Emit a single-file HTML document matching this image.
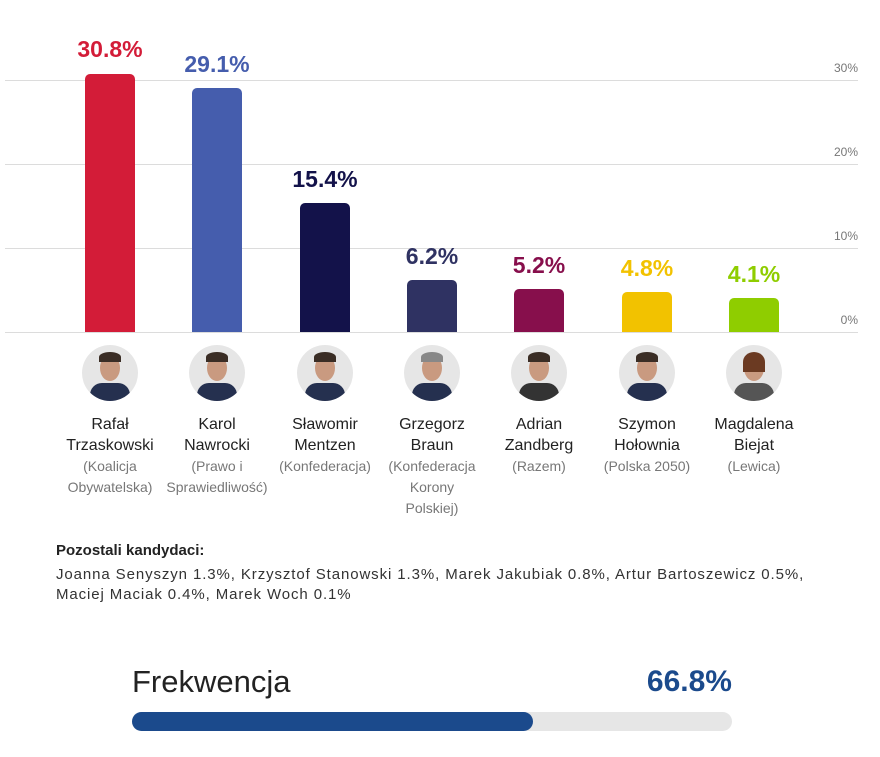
<!DOCTYPE html>
<html><head><meta charset="utf-8"><style>
body{margin:0;width:880px;height:757px;background:#fff;position:relative;overflow:hidden;font-family:"Liberation Sans",sans-serif}
.g{position:absolute;left:5px;width:853px;height:1px;background:#dcdcdc}
.t{position:absolute;right:22px;font-size:12px;color:#777}
.bar{position:absolute;width:50px;border-radius:5px 5px 0 0}
.v{position:absolute;width:120px;text-align:center;font-weight:bold;font-size:23px}
.av{position:absolute;top:345px;width:56px;height:56px;border-radius:50%;background:#e6e6e6;overflow:hidden}
.av .f{position:absolute;left:18px;top:10px;width:20px;height:26px;border-radius:50%;background:#c99a80}
.av .h{position:absolute;left:17px;top:7px;width:22px;height:10px;border-radius:50% 50% 0 0;background:#3a2d25}
.av .s{position:absolute;left:8px;top:38px;width:40px;height:24px;border-radius:12px 12px 0 0;background:#25304f}
.n{position:absolute;top:414px;width:120px;text-align:center;font-size:16px;line-height:21px;color:#222}
.n span{display:block;font-size:14px;color:#777}
</style></head><body>
<div class="g" style="top:80px"></div><div class="g" style="top:164px"></div><div class="g" style="top:248px"></div><div class="g" style="top:332px"></div>
<div class="t" style="top:61px">30%</div><div class="t" style="top:145px">20%</div><div class="t" style="top:229px">10%</div><div class="t" style="top:313px">0%</div>

<div class="bar" style="left:85px;top:74px;height:258px;background:#d31c38"></div>
<div class="bar" style="left:192px;top:88px;height:244px;background:#455dad"></div>
<div class="bar" style="left:300px;top:203px;height:129px;background:#13124a"></div>
<div class="bar" style="left:407px;top:280px;height:52px;background:#2f3262"></div>
<div class="bar" style="left:514px;top:289px;height:43px;background:#870f4c"></div>
<div class="bar" style="left:622px;top:292px;height:40px;background:#f2c200"></div>
<div class="bar" style="left:729px;top:298px;height:34px;background:#8fcd00"></div>

<div class="v" style="left:50px;top:36px;color:#d31c38">30.8%</div>
<div class="v" style="left:157px;top:51px;color:#455dad">29.1%</div>
<div class="v" style="left:265px;top:166px;color:#13124a">15.4%</div>
<div class="v" style="left:372px;top:243px;color:#2f3262">6.2%</div>
<div class="v" style="left:479px;top:252px;color:#870f4c">5.2%</div>
<div class="v" style="left:587px;top:255px;color:#f2c200">4.8%</div>
<div class="v" style="left:694px;top:261px;color:#8fcd00">4.1%</div>

<div class="av" style="left:82px"><div class="f"></div><div class="h"></div><div class="s"></div></div>
<div class="av" style="left:189px"><div class="f"></div><div class="h"></div><div class="s"></div></div>
<div class="av" style="left:297px"><div class="f"></div><div class="h"></div><div class="s"></div></div>
<div class="av" style="left:404px"><div class="f"></div><div class="h" style="background:#888"></div><div class="s"></div></div>
<div class="av" style="left:511px"><div class="f"></div><div class="h"></div><div class="s" style="background:#333"></div></div>
<div class="av" style="left:619px"><div class="f"></div><div class="h"></div><div class="s"></div></div>
<div class="av" style="left:726px"><div class="f"></div><div class="h" style="background:#6b3a22;height:20px"></div><div class="s" style="background:#555"></div></div>

<div class="n" style="left:50px">Rafał<br>Trzaskowski<span>(Koalicja<br>Obywatelska)</span></div>
<div class="n" style="left:157px">Karol<br>Nawrocki<span>(Prawo i<br>Sprawiedliwość)</span></div>
<div class="n" style="left:265px">Sławomir<br>Mentzen<span>(Konfederacja)</span></div>
<div class="n" style="left:372px">Grzegorz<br>Braun<span>(Konfederacja<br>Korony<br>Polskiej)</span></div>
<div class="n" style="left:479px">Adrian<br>Zandberg<span>(Razem)</span></div>
<div class="n" style="left:587px">Szymon<br>Hołownia<span>(Polska 2050)</span></div>
<div class="n" style="left:694px">Magdalena<br>Biejat<span>(Lewica)</span></div>

<div style="position:absolute;left:56px;top:542px;font-size:15px;font-weight:bold;color:#222">Pozostali kandydaci:</div>
<div style="position:absolute;left:56px;top:565px;width:800px;font-size:15px;line-height:20px;letter-spacing:0.9px;color:#333">Joanna Senyszyn 1.3%, Krzysztof Stanowski 1.3%, Marek Jakubiak 0.8%, Artur Bartoszewicz 0.5%,<br>Maciej Maciak 0.4%, Marek Woch 0.1%</div>

<div style="position:absolute;left:132px;top:664px;font-size:31px;color:#222">Frekwencja</div>
<div style="position:absolute;right:148px;top:665px;font-size:30px;font-weight:bold;color:#1b4a8c">66.8%</div>
<div style="position:absolute;left:132px;top:712px;width:600px;height:19px;border-radius:10px;background:#e6e6e6"></div>
<div style="position:absolute;left:132px;top:712px;width:401px;height:19px;border-radius:10px;background:#1b4a8c"></div>
</body></html>
